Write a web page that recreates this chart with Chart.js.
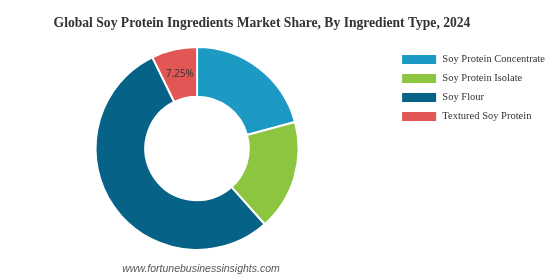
<!DOCTYPE html>
<html>
<head>
<meta charset="utf-8">
<script src="https://cdn.jsdelivr.net/npm/chart.js@4.4.1/dist/chart.umd.min.js"></script>
<style>
  html, body { margin: 0; padding: 0; background: #fff; }
  #wrap { width: 560px; height: 278px; position: relative; }
</style>
</head>
<body>
<div id="wrap"><canvas id="chart" width="560" height="278"></canvas></div>
<script>
const title = 'Global Soy Protein Ingredients Market Share, By Ingredient Type, 2024';
const segments = ['Soy Protein Concentrate', 'Soy Protein Isolate', 'Soy Flour', 'Textured Soy Protein'];
const shares = [20.8, 17.6, 54.35, 7.25];
const shownLabels = [false, false, false, true];
const colours = ['#1c9ac3', '#8cc540', '#066287', '#e25656'];

// title, watermark and the one slice label
const extras = {
  id: 'extras',
  afterDraw(chart) {
    const c = chart.ctx;
    c.save();
    c.fillStyle = '#333';
    c.font = 'bold 13.6px "Liberation Serif"';
    c.textAlign = 'center';
    c.textBaseline = 'middle';
    c.fillText(title, 262, 23);

    c.fillStyle = '#555';
    c.font = 'italic 10.5px "Liberation Sans"';
    c.fillText('www.fortunebusinessinsights.com', 201, 269);

    const meta = chart.getDatasetMeta(0);
    c.font = '10px "Open Sans"';
    c.fillStyle = '#333';
    meta.data.forEach((arc, i) => {
      if (!shownLabels[i]) return;
      const p = arc.tooltipPosition();
      c.fillText(shares[i].toFixed(2) + '%', p.x, p.y);
    });
    c.restore();
  }
};

new Chart(document.getElementById('chart'), {
  type: 'doughnut',
  data: {
    labels: segments,
    datasets: [{
      data: shares,
      backgroundColor: colours,
      borderColor: '#fff',
      borderWidth: 2
    }]
  },
  options: {
    responsive: false,
    animation: false,
    cutout: '51%',
    layout: { padding: { top: 46, bottom: 27, left: 1, right: 5 } },
    plugins: {
      title: { display: false },
      tooltip: { enabled: false },
      legend: {
        position: 'right',
        align: 'start',
        labels: {
          boxWidth: 36,
          boxHeight: 11,
          padding: 8,
          color: '#333',
          font: { family: '"Liberation Serif"', size: 10.5 }
        }
      }
    }
  },
  plugins: [extras]
});
</script>
</body>
</html>
